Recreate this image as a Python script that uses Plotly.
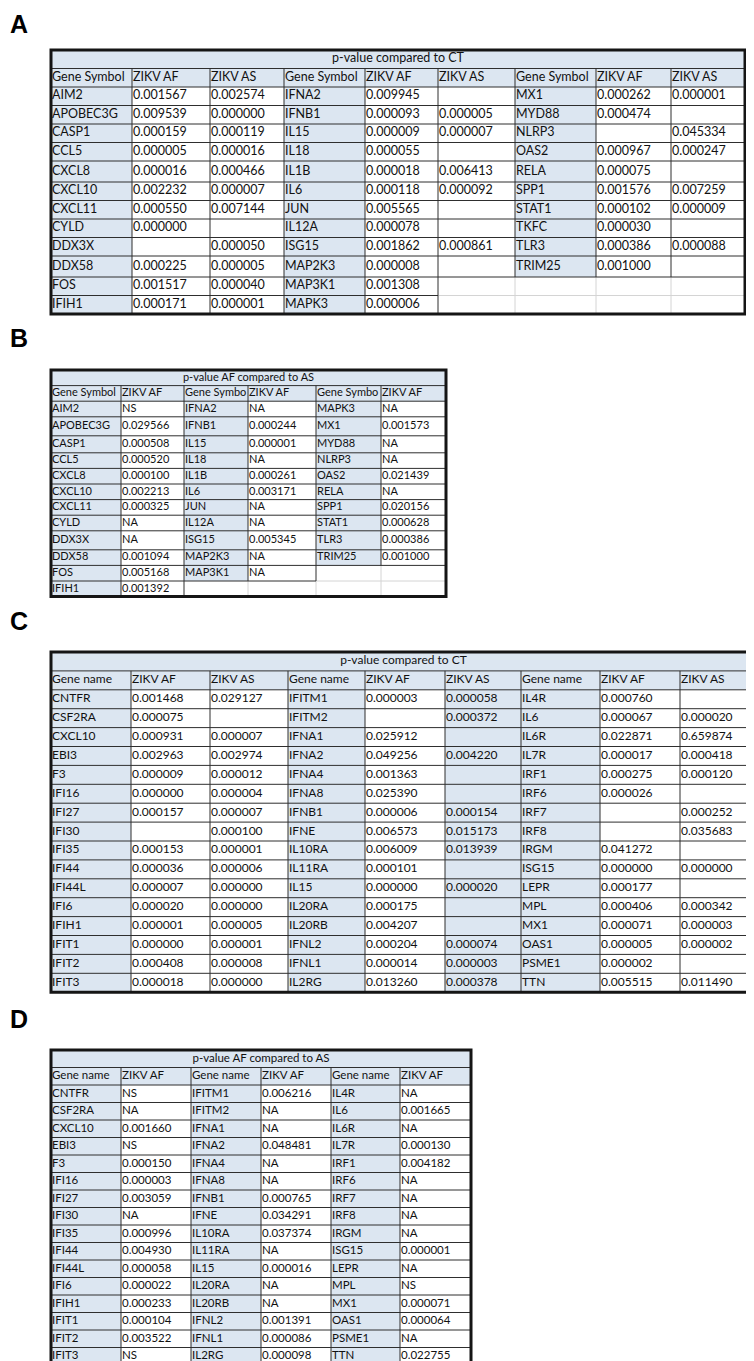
import plotly.graph_objects as go

W, H = 754, 1361
BLUE = "#dce6f1"
DARK = "#2e2e2e"
GRID = "#d4d4d4"
TEXT = "#111111"
FONT = "Lato"

# ---------------- DATA ----------------
# Panel A : p-value compared to CT
A_title = "p-value compared to CT"
A_headers = ["Gene Symbol", "ZIKV AF", "ZIKV AS", "Gene Symbol", "ZIKV AF", "ZIKV AS",
             "Gene Symbol", "ZIKV AF", "ZIKV AS"]
A_genes_1 = ["AIM2", "APOBEC3G", "CASP1", "CCL5", "CXCL8", "CXCL10", "CXCL11", "CYLD",
             "DDX3X", "DDX58", "FOS", "IFIH1"]
A_af_1 = ["0.001567", "0.009539", "0.000159", "0.000005", "0.000016", "0.002232", "0.000550",
          "0.000000", "", "0.000225", "0.001517", "0.000171"]
A_as_1 = ["0.002574", "0.000000", "0.000119", "0.000016", "0.000466", "0.000007", "0.007144",
          "", "0.000050", "0.000005", "0.000040", "0.000001"]
A_genes_2 = ["IFNA2", "IFNB1", "IL15", "IL18", "IL1B", "IL6", "JUN", "IL12A", "ISG15",
             "MAP2K3", "MAP3K1", "MAPK3"]
A_af_2 = ["0.009945", "0.000093", "0.000009", "0.000055", "0.000018", "0.000118", "0.005565",
          "0.000078", "0.001862", "0.000008", "0.001308", "0.000006"]
A_as_2 = ["", "0.000005", "0.000007", "", "0.006413", "0.000092", "", "", "0.000861", ""]
A_genes_3 = ["MX1", "MYD88", "NLRP3", "OAS2", "RELA", "SPP1", "STAT1", "TKFC", "TLR3", "TRIM25"]
A_af_3 = ["0.000262", "0.000474", "", "0.000967", "0.000075", "0.001576", "0.000102",
          "0.000030", "0.000386", "0.001000"]
A_as_3 = ["0.000001", "", "0.045334", "0.000247", "", "0.007259", "0.000009", "", "0.000088", ""]

# Panel B : p-value AF compared to AS
B_title = "p-value AF compared to AS"
B_headers = ["Gene Symbol", "ZIKV AF", "Gene Symbo", "ZIKV AF", "Gene Symbo", "ZIKV AF"]
B_genes_1 = ["AIM2", "APOBEC3G", "CASP1", "CCL5", "CXCL8", "CXCL10", "CXCL11", "CYLD",
             "DDX3X", "DDX58", "FOS", "IFIH1"]
B_af_1 = ["NS", "0.029566", "0.000508", "0.000520", "0.000100", "0.002213", "0.000325", "NA",
          "NA", "0.001094", "0.005168", "0.001392"]
B_genes_2 = ["IFNA2", "IFNB1", "IL15", "IL18", "IL1B", "IL6", "JUN", "IL12A", "ISG15",
             "MAP2K3", "MAP3K1"]
B_af_2 = ["NA", "0.000244", "0.000001", "NA", "0.000261", "0.003171", "NA", "NA", "0.005345",
          "NA", "NA"]
B_genes_3 = ["MAPK3", "MX1", "MYD88", "NLRP3", "OAS2", "RELA", "SPP1", "STAT1", "TLR3", "TRIM25"]
B_af_3 = ["NA", "0.001573", "NA", "NA", "0.021439", "NA", "0.020156", "0.000628", "0.000386",
          "0.001000"]

# Panel C : p-value compared to CT
C_title = "p-value compared to CT"
C_headers = ["Gene name", "ZIKV AF", "ZIKV AS", "Gene name", "ZIKV AF", "ZIKV AS",
             "Gene name", "ZIKV AF", "ZIKV AS"]
C_genes_1 = ["CNTFR", "CSF2RA", "CXCL10", "EBI3", "F3", "IFI16", "IFI27", "IFI30", "IFI35",
             "IFI44", "IFI44L", "IFI6", "IFIH1", "IFIT1", "IFIT2", "IFIT3"]
C_af_1 = ["0.001468", "0.000075", "0.000931", "0.002963", "0.000009", "0.000000", "0.000157",
          "", "0.000153", "0.000036", "0.000007", "0.000020", "0.000001", "0.000000",
          "0.000408", "0.000018"]
C_as_1 = ["0.029127", "", "0.000007", "0.002974", "0.000012", "0.000004", "0.000007",
          "0.000100", "0.000001", "0.000006", "0.000000", "0.000000", "0.000005", "0.000001",
          "0.000008", "0.000000"]
C_genes_2 = ["IFITM1", "IFITM2", "IFNA1", "IFNA2", "IFNA4", "IFNA8", "IFNB1", "IFNE", "IL10RA",
             "IL11RA", "IL15", "IL20RA", "IL20RB", "IFNL2", "IFNL1", "IL2RG"]
C_af_2 = ["0.000003", "", "0.025912", "0.049256", "0.001363", "0.025390", "0.000006",
          "0.006573", "0.006009", "0.000101", "0.000000", "0.000175", "0.004207", "0.000204",
          "0.000014", "0.013260"]
C_as_2 = ["0.000058", "0.000372", "", "0.004220", "", "", "0.000154", "0.015173", "0.013939",
          "", "0.000020", "", "", "0.000074", "0.000003", "0.000378"]
C_genes_3 = ["IL4R", "IL6", "IL6R", "IL7R", "IRF1", "IRF6", "IRF7", "IRF8", "IRGM", "ISG15",
             "LEPR", "MPL", "MX1", "OAS1", "PSME1", "TTN"]
C_af_3 = ["0.000760", "0.000067", "0.022871", "0.000017", "0.000275", "0.000026", "", "",
          "0.041272", "0.000000", "0.000177", "0.000406", "0.000071", "0.000005", "0.000002",
          "0.005515"]
C_as_3 = ["", "0.000020", "0.659874", "0.000418", "0.000120", "", "0.000252", "0.035683", "",
          "0.000000", "", "0.000342", "0.000003", "0.000002", "", "0.011490"]

# Panel D : p-value AF compared to AS
D_title = "p-value AF compared to AS"
D_headers = ["Gene name", "ZIKV AF", "Gene name", "ZIKV AF", "Gene name", "ZIKV AF"]
D_genes_1 = C_genes_1
D_af_1 = ["NS", "NA", "0.001660", "NS", "0.000150", "0.000003", "0.003059", "NA", "0.000996",
          "0.004930", "0.000058", "0.000022", "0.000233", "0.000104", "0.003522", "NS"]
D_genes_2 = C_genes_2
D_af_2 = ["0.006216", "NA", "NA", "0.048481", "NA", "NA", "0.000765", "0.034291", "0.037374",
          "NA", "0.000016", "NA", "NA", "0.001391", "0.000086", "0.000098"]
D_genes_3 = C_genes_3
D_af_3 = ["NA", "0.001665", "NA", "0.000130", "0.004182", "NA", "NA", "NA", "NA", "0.000001",
          "NA", "NS", "0.000071", "0.000064", "NA", "0.022755"]

# ---------------- LAYOUT / DRAWING ----------------
fig = go.Figure()


def draw_table(label, label_y, x0, y0, widths, heights, title, headers, columns,
               blue_cols, fsize):
    xs = [x0]
    for w in widths:
        xs.append(xs[-1] + w)
    ys = [y0]
    for h in heights:
        ys.append(ys[-1] + h)
    nrows, ncols = len(heights), len(widths)
    x1, y1 = xs[-1], ys[-1]

    bordered = [[False] * ncols for _ in range(nrows)]
    for j in range(ncols):
        bordered[1][j] = True
    for j, col in enumerate(columns):
        for i in range(len(col)):
            bordered[2 + i][j] = True

    # fills
    fig.add_shape(type="rect", x0=x0, x1=x1, y0=y0, y1=ys[2], fillcolor=BLUE,
                  line_width=0, layer="below")
    for j, isblue in enumerate(blue_cols):
        if isblue:
            n = len(columns[j])
            fig.add_shape(type="rect", x0=xs[j], x1=xs[j + 1], y0=ys[2], y1=ys[2 + n],
                          fillcolor=BLUE, line_width=0, layer="below")

    dx, dy, lx, ly = [], [], [], []

    def seg(xa, ya, xb, yb, dark):
        if dark:
            dx.extend([xa, xb, None]); dy.extend([ya, yb, None])
        else:
            lx.extend([xa, xb, None]); ly.extend([ya, yb, None])

    seg(x0, ys[1], x1, ys[1], True)
    for r in range(2, nrows):
        for j in range(ncols):
            seg(xs[j], ys[r], xs[j + 1], ys[r], bordered[r - 1][j] or bordered[r][j])
    for k in range(1, ncols):
        for r in range(1, nrows):
            seg(xs[k], ys[r], xs[k], ys[r + 1], bordered[r][k - 1] or bordered[r][k])

    fig.add_trace(go.Scatter(x=lx, y=ly, mode="lines", line=dict(color=GRID, width=1),
                             hoverinfo="skip", showlegend=False))
    fig.add_trace(go.Scatter(x=dx, y=dy, mode="lines", line=dict(color=DARK, width=1),
                             hoverinfo="skip", showlegend=False))

    # outer frame
    fig.add_shape(type="rect", x0=x0, x1=x1, y0=y0, y1=y1,
                  line=dict(color="#151515", width=3), fillcolor="rgba(0,0,0,0)")

    # texts
    tx, ty, tt = [], [], []
    for j, h in enumerate(headers):
        tx.append(xs[j] + 1); ty.append((ys[1] + ys[2]) / 2); tt.append(h)
    for j, col in enumerate(columns):
        for i, v in enumerate(col):
            if v:
                tx.append(xs[j] + 1); ty.append((ys[2 + i] + ys[3 + i]) / 2); tt.append(v)
    fig.add_trace(go.Scatter(x=tx, y=ty, text=tt, mode="text", textposition="middle right",
                             textfont=dict(family=FONT, size=fsize, color=TEXT),
                             hoverinfo="skip", showlegend=False, cliponaxis=False))
    fig.add_trace(go.Scatter(x=[(x0 + x1) / 2], y=[(ys[0] + ys[1]) / 2], text=[title],
                             mode="text", textposition="middle center",
                             textfont=dict(family=FONT, size=fsize, color=TEXT),
                             hoverinfo="skip", showlegend=False))
    fig.add_trace(go.Scatter(x=[2], y=[label_y], text=["<b>" + label + "</b>"], mode="text",
                             textposition="middle right",
                             textfont=dict(family="Liberation Sans", size=25, color="#000"),
                             hoverinfo="skip", showlegend=False, cliponaxis=False))


def rows(n_data, base, title_h, tall=None):
    hs = [title_h, title_h] + [base] * n_data
    for idx, hh in (tall or {}).items():
        hs[2 + idx] = hh
    return hs


draw_table("A", 18.5, 43, 42, [81, 78, 74, 81, 73, 77, 81, 75, 74],
           rows(12, 18.5, 18.5, {4: 21, 9: 21}), A_title, A_headers,
           [A_genes_1, A_af_1, A_as_1, A_genes_2, A_af_2, A_as_2, A_genes_3, A_af_3, A_as_3],
           [1, 0, 0, 1, 0, 0, 1, 0, 0], 12.5)

draw_table("B", 333, 43, 362, [70, 63, 64, 68, 65, 65],
           rows(12, 15.6, 15.6, {1: 19, 2: 17, 8: 19}), B_title, B_headers,
           [B_genes_1, B_af_1, B_genes_2, B_af_2, B_genes_3, B_af_3],
           [1, 0, 1, 0, 1, 0], 11)

draw_table("C", 616, 43, 644, [80, 79, 78, 77, 80, 76, 79, 80, 76],
           rows(16, 18.9, 18.9), C_title, C_headers,
           [C_genes_1, C_af_1, C_as_1, C_genes_2, C_af_2, C_as_2, C_genes_3, C_af_3, C_as_3],
           [1, 0, 0, 1, 0, 1, 1, 0, 0], 12)

draw_table("D", 1014, 43, 1042, [70, 70, 70, 70, 69, 71],
           rows(16, 17.5, 17.5), D_title, D_headers,
           [D_genes_1, D_af_1, D_genes_2, D_af_2, D_genes_3, D_af_3],
           [1, 0, 1, 0, 1, 0], 11.5)

fig.update_layout(
    width=W, height=H, margin=dict(l=0, r=0, t=0, b=0),
    paper_bgcolor="white", plot_bgcolor="white", showlegend=False,
    xaxis=dict(range=[0, W], visible=False, fixedrange=True),
    yaxis=dict(range=[H, 0], visible=False, fixedrange=True),
)
fig.write_html("out.html")
